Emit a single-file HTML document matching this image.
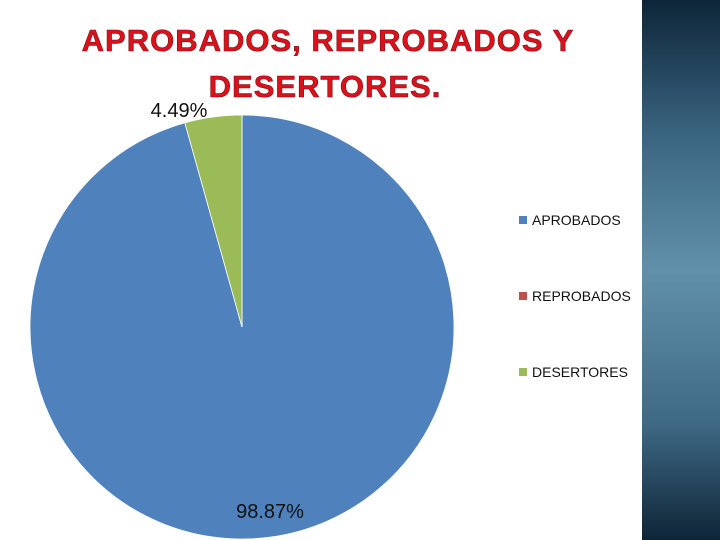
<!DOCTYPE html>
<html><head><meta charset="utf-8"><style>
html,body{margin:0;padding:0;width:720px;height:540px;overflow:hidden;background:#fff;font-family:"Liberation Sans",sans-serif}
#panel{position:absolute;left:642px;top:0;width:78px;height:540px;background:linear-gradient(#0d2538 0%,#3a6580 25%,#6190ab 50%,#3f6a86 78%,#0e2537 100%)}
.title{position:absolute;left:0;width:656px;text-align:center;font-weight:bold;font-size:31px;color:#d9121b;letter-spacing:1px;-webkit-text-stroke:0.6px #7a0a0e;line-height:1}
</style></head><body>
<div id="panel"></div>
<svg id="chart" width="720" height="540" style="position:absolute;left:0;top:0"></svg>
<div class="title" style="top:25px">APROBADOS, REPROBADOS Y</div>
<div class="title" style="top:71px;left:-3px">DESERTORES.</div>
<script>
const categories=["APROBADOS","REPROBADOS","DESERTORES"];
const values=[98.87,0,4.49];
const labels=["98.87%","","4.49%"];
const colors=["#4f81bd","#c0504d","#9bbb59"];
const svg=document.getElementById('chart');
const NS="http://www.w3.org/2000/svg";
const cx=242,cy=327,r=212;
const total=values.reduce((a,b)=>a+b,0);
function pt(a,rr){return [cx+rr*Math.sin(a),cy-rr*Math.cos(a)];}
let a0=0;
values.forEach((v,i)=>{
  const a1=a0+v/total*2*Math.PI;
  if(v>0){
    const p=document.createElementNS(NS,'path');
    const [x0,y0]=pt(a0,r),[x1,y1]=pt(a1,r);
    p.setAttribute('d',`M${cx},${cy}L${x0},${y0}A${r},${r} 0 ${a1-a0>Math.PI?1:0} 1 ${x1},${y1}Z`);
    p.setAttribute('fill',colors[i]);p.setAttribute('stroke','#fff');p.setAttribute('stroke-width','0.8');
    
    
    svg.appendChild(p);
  }
  a0=a1;
});
const lblPos=[[270,518],null,[179,117]];
labels.forEach((l,i)=>{
  if(!l)return;
  const t=document.createElementNS(NS,'text');
  t.setAttribute('x',lblPos[i][0]);t.setAttribute('y',lblPos[i][1]);
  t.setAttribute('text-anchor','middle');t.setAttribute('font-size','20');
  t.setAttribute('font-family','Liberation Sans, sans-serif');t.setAttribute('fill','#111');
  t.textContent=l;
  
  
  svg.appendChild(t);
});
categories.forEach((c,i)=>{
  const y=220+i*76;
  const g=document.createElementNS(NS,'g');
  
  
  const rc=document.createElementNS(NS,'rect');
  rc.setAttribute('x',519);rc.setAttribute('y',y-4);rc.setAttribute('width',8);rc.setAttribute('height',8);rc.setAttribute('fill',colors[i]);
  const t=document.createElementNS(NS,'text');
  t.setAttribute('x',532);t.setAttribute('y',y+5);t.setAttribute('font-size','14');
  t.setAttribute('font-family','Liberation Sans, sans-serif');t.setAttribute('fill','#111');
  t.textContent=c;
  g.appendChild(rc);g.appendChild(t);svg.appendChild(g);
});
</script>
</body></html>
